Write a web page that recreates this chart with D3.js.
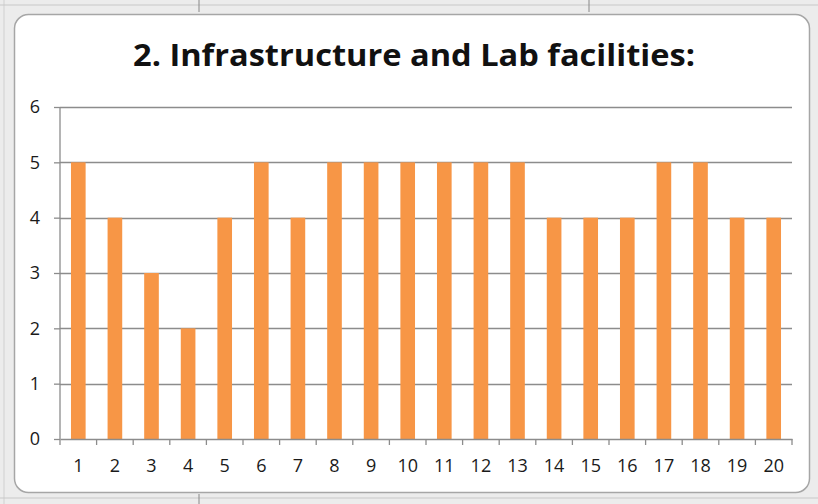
<!DOCTYPE html>
<html>
<head>
<meta charset="utf-8">
<script src="https://cdn.jsdelivr.net/npm/d3@7"></script>
<style>
  body { margin: 0; background: #ececec; }
  svg { display: block; }
</style>
</head>
<body>
<div id="chart"></div>
<script>
var width = 818,
    height = 504;

// data
var categories = ["1","2","3","4","5","6","7","8","9","10","11","12","13","14","15","16","17","18","19","20"];
var values = [5, 4, 3, 2, 4, 5, 4, 5, 5, 5, 5, 5, 5, 4, 4, 4, 5, 5, 4, 4];
var yTicks = [0, 1, 2, 3, 4, 5, 6];
var title = "2. Infrastructure and Lab facilities:";

var margin = {top: 107, right: 26, bottom: 65, left: 60};

var svg = d3.select("#chart").append("svg")
    .attr("width", width)
    .attr("height", height);

// sheet background
svg.append("rect").attr("width", width).attr("height", height).attr("fill", "#ececec");
svg.append("line").attr("x1", 4).attr("x2", 4).attr("y1", 0).attr("y2", height).attr("stroke", "#d0d0d0");
svg.append("line").attr("x1", 0).attr("x2", width).attr("y1", 5).attr("y2", 5).attr("stroke", "#c8c8c8");
svg.append("line").attr("x1", 0).attr("x2", width).attr("y1", 498).attr("y2", 498).attr("stroke", "#c8c8c8");
[199, 589].forEach(function (x) {
    svg.append("line").attr("x1", x).attr("x2", x).attr("y1", 0).attr("y2", 12).attr("stroke", "#888");
});
svg.append("line").attr("x1", 199).attr("x2", 199).attr("y1", 494).attr("y2", height).attr("stroke", "#888");

// chart area
svg.append("rect")
    .attr("x", 14.5).attr("y", 14.5)
    .attr("width", 795).attr("height", 478)
    .attr("rx", 14).attr("ry", 14)
    .attr("fill", "#ffffff")
    .attr("stroke", "#a6a6a6")
    .attr("stroke-width", 1.5);

var x = d3.scaleBand()
    .domain(categories)
    .range([margin.left, width - margin.right])
    .paddingInner(0.6)
    .paddingOuter(0.3);

var y = d3.scaleLinear()
    .domain([0, 6])
    .range([height - margin.bottom, margin.top]);

var g = svg.append("g");

// gridlines
g.selectAll(".grid")
    .data(yTicks.slice(1))
    .enter().append("line")
    .attr("class", "grid")
    .attr("x1", margin.left)
    .attr("x2", width - margin.right)
    .attr("y1", function (d) { return Math.round(y(d)) + 0.5; })
    .attr("y2", function (d) { return Math.round(y(d)) + 0.5; })
    .attr("stroke", "#8c8c8c")
    .attr("stroke-width", 1.3);

// bars
g.selectAll(".bar")
    .data(values)
    .enter().append("rect")
    .attr("class", "bar")
    .attr("x", function (d, i) { return x(categories[i]); })
    .attr("width", x.bandwidth())
    .attr("y", function (d) { return y(d); })
    .attr("height", function (d) { return y(0) - y(d); })
    .attr("fill", "#f79646");

// y axis
var yAxis = g.append("g")
    .attr("transform", "translate(" + margin.left + ",0)")
    .call(d3.axisLeft(y).tickValues(yTicks).tickSize(6).tickPadding(14).tickFormat(d3.format("d")));

// x axis, ticks at band boundaries
var xAxis = g.append("g")
    .attr("transform", "translate(0," + y(0) + ")")
    .call(d3.axisBottom(x).tickSize(0).tickPadding(20));

var step = x.step();
xAxis.selectAll(".bound")
    .data(d3.range(categories.length + 1))
    .enter().append("line")
    .attr("class", "bound")
    .attr("x1", function (d) { return margin.left + d * step; })
    .attr("x2", function (d) { return margin.left + d * step; })
    .attr("y1", 0).attr("y2", 6)
    .attr("stroke", "#8c8c8c")
    .attr("stroke-width", 1.3);

[yAxis, xAxis].forEach(function (a) {
    a.attr("font-size", null);
    a.select(".domain").attr("stroke", "#8c8c8c").attr("stroke-width", 1.3);
    a.selectAll(".tick line").attr("stroke", "#8c8c8c").attr("stroke-width", 1.3);
    a.selectAll("text")
        .attr("fill", "#1a1a1a")
        .style("font-family", "'Open Sans', 'Noto Sans', sans-serif")
        .style("font-size", "18px");
});
yAxis.select(".domain").attr("d", "M0," + y(6) + "V" + y(0));

// title
svg.append("text")
    .attr("x", 414)
    .attr("y", 66)
    .attr("text-anchor", "middle")
    .attr("textLength", 562)
    .attr("lengthAdjust", "spacingAndGlyphs")
    .style("font-family", "'Open Sans', 'Noto Sans', sans-serif")
    .style("font-weight", "bold")
    .style("font-size", "31px")
    .attr("fill", "#111")
    .text(title);
</script>
</body>
</html>
